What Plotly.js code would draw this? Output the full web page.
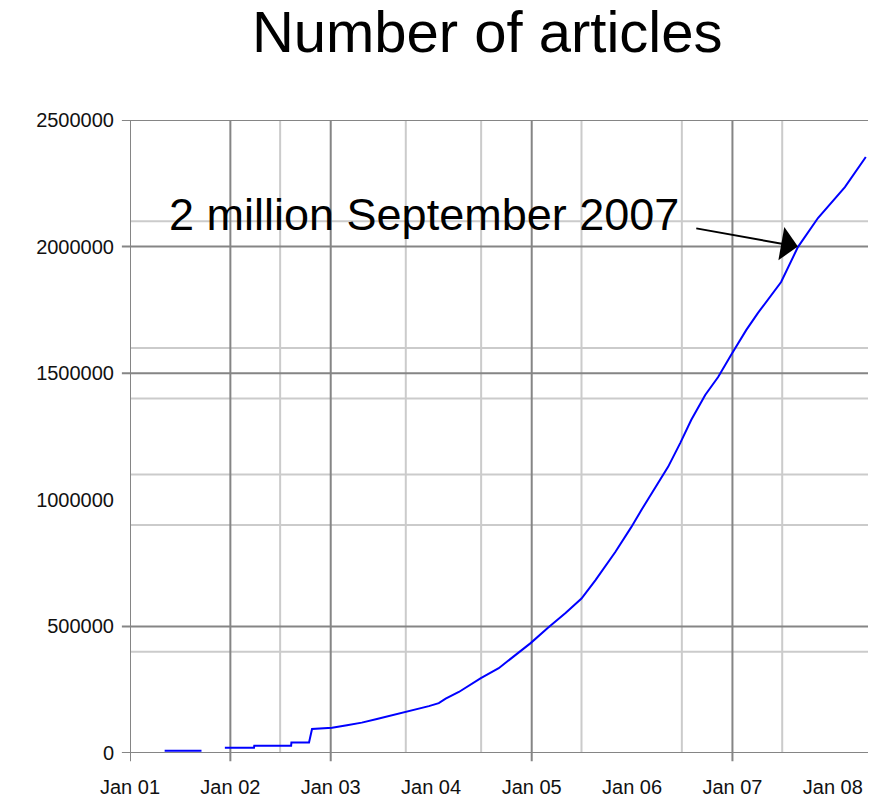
<!DOCTYPE html>
<html>
<head>
<meta charset="utf-8">
<script src="https://cdn.plot.ly/plotly-3.0.1.min.js"></script>
<style>
  html, body { margin: 0; padding: 0; background: #ffffff; }
  #chart { width: 870px; height: 800px; }
</style>
</head>
<body>
<div id="chart"></div>
<script>
// ---- data ----
const dates = [
  '2001-05-07', '2001-09-18', '2001-10-30',
  '2001-12-12', '2002-03-28', '2002-03-29', '2002-08-10', '2002-08-11', '2002-10-14', '2002-10-25',
  '2003-01-06', '2003-03-01', '2003-04-24', '2003-06-18', '2003-08-19', '2003-10-30', '2003-12-24',
  '2004-01-29', '2004-02-23', '2004-04-11', '2004-06-30', '2004-09-03', '2004-11-14', '2004-12-28',
  '2005-02-28', '2005-05-04', '2005-07-01', '2005-08-21', '2005-11-01', '2005-12-29',
  '2006-02-04', '2006-03-26', '2006-05-12', '2006-06-25', '2006-08-04', '2006-09-24', '2006-11-10', '2006-12-27',
  '2007-02-20', '2007-04-04', '2007-06-27', '2007-08-27', '2007-11-08',
  '2008-02-14', '2008-04-30'
];
const articles = [
  9000, 9000, null,
  21000, 21000, 29000, 29000, 41000, 41000, 95000,
  100000, 110000, 120000, 134000, 150000, 170000, 185000,
  197000, 215000, 241000, 296000, 335000, 395000, 434000,
  494000, 553000, 610000, 683000, 794000, 892000,
  960000, 1050000, 1130000, 1224000, 1315000, 1414000, 1485000, 1572000,
  1670000, 1738000, 1860000, 1998000, 2113000,
  2235000, 2354000
];

const xTickVals = ['2001-01-01', '2002-01-01', '2003-01-01', '2004-01-01', '2005-01-01', '2006-01-01', '2007-01-01', '2008-01-01'];
const xTickText = ['Jan 01', 'Jan 02', 'Jan 03', 'Jan 04', 'Jan 05', 'Jan 06', 'Jan 07', 'Jan 08'];
const yTickVals = [0, 500000, 1000000, 1500000, 2000000, 2500000];
const yTickText = ['0', '500000', '1000000', '1500000', '2000000', '2500000'];

// gridlines as they appear in the reference (irregular)
const majorXGrid = ['2001-01-01', '2002-01-01', '2003-01-01', '2005-01-01', '2007-01-01'];
const minorXGrid = ['2002-07-01', '2003-10-01', '2004-07-01', '2005-07-01', '2006-07-01', '2007-07-01'];
const majorYGrid = [0, 500000, 1500000, 2000000, 2500000];
const minorYGrid = [400000, 900000, 1100000, 1400000, 1600000, 2100000];

const milestoneLabel = '2 million September 2007';
const milestoneDate = '2007-08-27';
const milestoneValue = 2000000;

// ---- styling ----
const FONT = 'Liberation Sans, Arial, sans-serif';
const DARK = '#858585';
const LIGHT = '#cbcbcb';

const shapes = [];
minorXGrid.forEach(d => shapes.push({
  type: 'line', layer: 'below', xref: 'x', yref: 'paper',
  x0: d, x1: d, y0: 0, y1: 1, line: { color: LIGHT, width: 2 }
}));
minorYGrid.forEach(v => shapes.push({
  type: 'line', layer: 'below', xref: 'paper', yref: 'y',
  x0: 0, x1: 1, y0: v, y1: v, line: { color: LIGHT, width: 2 }
}));
majorXGrid.forEach(d => shapes.push({
  type: 'line', layer: 'below', xref: 'x', yref: 'paper',
  x0: d, x1: d, y0: -0.013, y1: 1, line: { color: DARK, width: 2 }
}));
majorYGrid.forEach(v => shapes.push({
  type: 'line', layer: 'below', xref: 'paper', yref: 'y',
  x0: -0.011, x1: 1, y0: v, y1: v, line: { color: DARK, width: 2 }
}));

const trace = {
  type: 'scatter', mode: 'lines',
  x: dates, y: articles,
  connectgaps: false,
  line: { color: '#0000ff', width: 2 },
  hoverinfo: 'skip'
};

const layout = {
  width: 870, height: 800,
  paper_bgcolor: '#ffffff', plot_bgcolor: '#ffffff',
  margin: { l: 130, r: 2, t: 120, b: 47, pad: 0 },
  showlegend: false,
  font: { family: FONT, color: '#000000' },
  title: {
    text: 'Number of articles',
    font: { family: FONT, size: 58, color: '#000000' },
    xref: 'paper', x: 0.484, xanchor: 'center',
    yref: 'container', y: 0.96, yanchor: 'middle'
  },
  xaxis: {
    type: 'date',
    range: ['2001-01-01', '2008-05-08'],
    tickvals: xTickVals, ticktext: xTickText,
    ticks: '', showgrid: false, zeroline: false,
    showline: false,
    ticklabelstandoff: 20,
    tickfont: { family: FONT, size: 20, color: '#111111' }
  },
  yaxis: {
    range: [0, 2500000],
    tickvals: yTickVals, ticktext: yTickText,
    ticks: '', showgrid: false, zeroline: false,
    showline: false,
    ticklabelstandoff: 15,
    tickfont: { family: FONT, size: 20, color: '#111111' }
  },
  shapes: shapes,
  annotations: [
    {
      xref: 'x', yref: 'y', x: '2003-12-05', y: 2128000,
      text: milestoneLabel, showarrow: false,
      xanchor: 'center', yanchor: 'middle',
      font: { family: FONT, size: 45, color: '#000000' }
    },
    {
      xref: 'x', yref: 'y', x: milestoneDate, y: milestoneValue,
      axref: 'x', ayref: 'y', ax: '2006-08-17', ay: 2073000,
      text: '', showarrow: true,
      arrowhead: 1, arrowsize: 2.8, arrowwidth: 2, arrowcolor: '#000000',
      standoff: 0, startstandoff: 0
    }
  ]
};

Plotly.newPlot('chart', [trace], layout, { staticPlot: true, displayModeBar: false });
</script>
</body>
</html>
